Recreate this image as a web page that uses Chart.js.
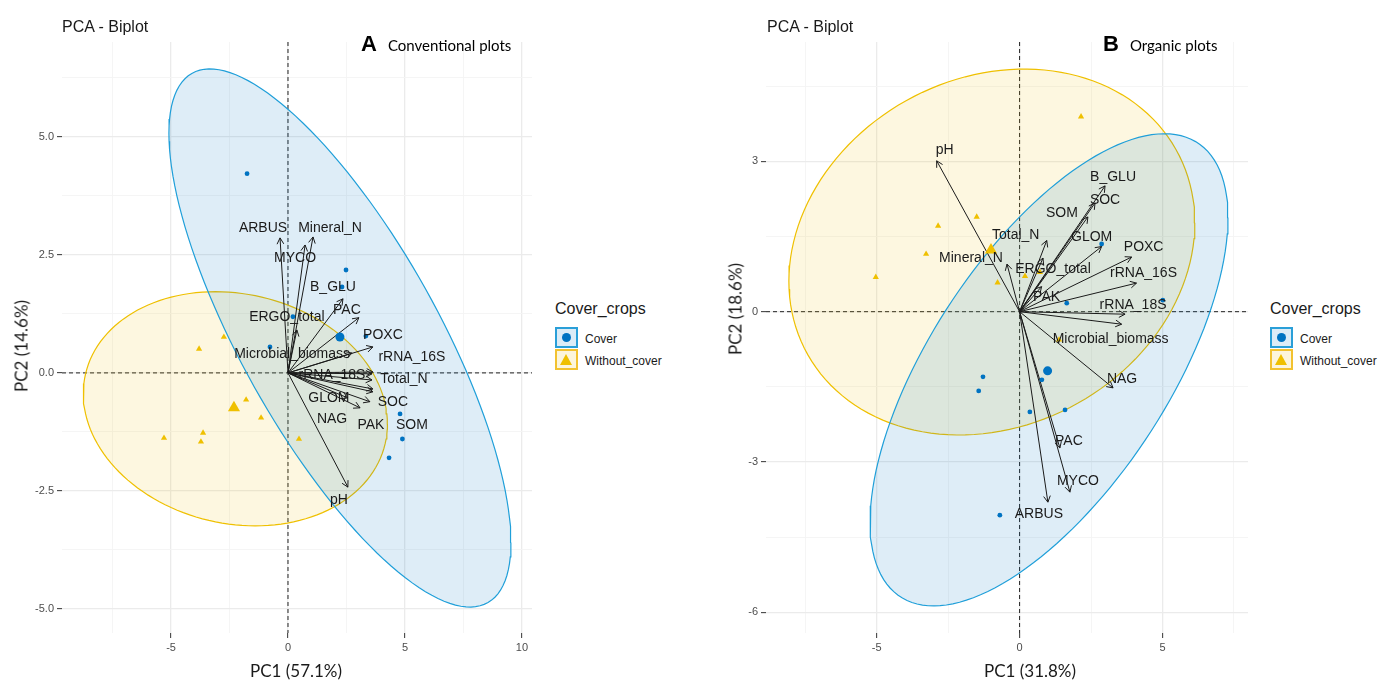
<!DOCTYPE html>
<html>
<head>
<meta charset="utf-8">
<script src="https://cdn.jsdelivr.net/npm/chart.js@4.4.0/dist/chart.umd.min.js"></script>
<style>
  body { margin: 0; background: #fff; width: 1392px; height: 681px; position: relative; overflow: hidden;
         font-family: "Liberation Sans", Arial, sans-serif; color: #1a1a1a; }
  canvas { position: absolute; top: 0; }
  #chartA { left: 0; }
  #chartB { left: 700px; }
  .txt { position: absolute; white-space: nowrap; }
  .title { font-size: 16px; line-height: 16px; }
  .tag { font-family: Lato, sans-serif; font-size: 15px; display: flex; align-items: baseline; color: #000; }
  .tag b { font-family: "Liberation Sans", Arial, sans-serif; font-size: 22px; margin-right: 11px; }
  .axt { font-family: Lato, sans-serif; font-size: 17px; line-height: 17px; transform: translate(-50%, -50%); }
  .axt.rot { transform: translate(-50%, -50%) rotate(-90deg); }
  .lg-title { font-size: 16px; line-height: 16px; }
  .key { position: absolute; width: 19px; height: 17px; border: 2px solid; }
  .key.cov { border-color: #2a9fd8; background: #dcecf7; }
  .key.wo { border-color: #f2c230; background: #fcf5dc; }
  .key.cov i { position: absolute; left: 5px; top: 4px; width: 9px; height: 9px; border-radius: 50%; background: #0073C2; }
  .key.wo i { position: absolute; left: 3px; top: 3px; width: 0; height: 0; border-left: 6.5px solid transparent;
              border-right: 6.5px solid transparent; border-bottom: 11px solid #EFC000; }
  .lg-lab { font-size: 12px; line-height: 12px; }
</style>
</head>
<body>
<canvas id="chartA" width="545" height="681"></canvas>
<canvas id="chartB" width="560" height="681"></canvas>

<div class="txt title" style="left:62px; top:19px;">PCA - Biplot</div>
<div class="txt tag" style="left:361px; top:31px;"><b>A</b>Conventional plots</div>
<div class="txt axt" style="left:296px; top:670px;">PC1 (57.1%)</div>
<div class="txt axt rot" style="left:21px; top:346px;">PC2 (14.6%)</div>

<div class="txt title" style="left:767px; top:19px;">PCA - Biplot</div>
<div class="txt tag" style="left:1103px; top:31px;"><b>B</b>Organic plots</div>
<div class="txt axt" style="left:1030px; top:670px;">PC1 (31.8%)</div>
<div class="txt axt rot" style="left:735px; top:309px;">PC2 (18.6%)</div>

<div class="txt lg-title" style="left:555px; top:301px;">Cover_crops</div>
<div class="key cov" style="left:555px; top:327px;"><i></i></div>
<div class="key wo" style="left:555px; top:349px;"><i></i></div>
<div class="txt lg-lab" style="left:585px; top:333px;">Cover</div>
<div class="txt lg-lab" style="left:585px; top:355px;">Without_cover</div>

<div class="txt lg-title" style="left:1270px; top:301px;">Cover_crops</div>
<div class="key cov" style="left:1270px; top:327px;"><i></i></div>
<div class="key wo" style="left:1270px; top:349px;"><i></i></div>
<div class="txt lg-lab" style="left:1300px; top:333px;">Cover</div>
<div class="txt lg-lab" style="left:1300px; top:355px;">Without_cover</div>

<script>
// ---------- Panel A: conventional plots ----------
const varsA = ["ARBUS", "Mineral_N", "MYCO", "B_GLU", "PAC", "POXC", "ERGO_total", "Microbial_biomass",
               "rRNA_16S", "rRNA_18S", "Total_N", "SOC", "GLOM", "NAG", "PAK", "SOM", "pH"];
const loadA1 = [-0.34, 1.07, 0.73, 2.35, 3.03, 3.63, 0.38, 2.74, 3.63, 3.59, 3.59, 3.63, 2.56, 3.08, 3.50, 3.63, 2.56];
const loadA2 = [2.86, 2.88, 2.71, 1.57, 1.17, 0.55, 0.91, 0.42, 0.02, -0.02, -0.15, -0.40, -0.53, -0.74, -0.61, -0.34, -2.42];

const coverA1 = [-1.75, 2.48, 2.31, 0.21, 3.33, -0.77, 4.79, 4.89, 4.32];
const coverA2 = [4.22, 2.18, 1.82, 1.19, 0.78, 0.55, -0.87, -1.40, -1.80];
const withoutA1 = [-2.74, -3.80, -1.79, -1.15, -3.63, -5.30, -3.72, 0.47];
const withoutA2 = [0.76, 0.51, -0.57, -0.95, -1.27, -1.38, -1.46, -1.40];
const meanCoverA = [2.22, 0.76];
const meanWithoutA = [-2.31, -0.74];
// ellipse: centre x, centre y, half-width, half-height, correlation
const ellCoverA = [2.22, 0.74, 7.31, 5.70, -0.76];
const ellWithoutA = [-2.25, -0.76, 6.50, 2.48, -0.13];

// ---------- Panel B: organic plots ----------
const varsB = ["pH", "B_GLU", "SOC", "SOM", "GLOM", "Total_N", "POXC", "Mineral_N", "ERGO_total", "rRNA_16S",
               "PAK", "rRNA_18S", "Microbial_biomass", "NAG", "PAC", "MYCO", "ARBUS"];
const loadB1 = [-2.90, 2.99, 2.64, 2.39, 2.87, 0.95, 3.92, -0.44, 0.82, 4.09, 0.77, 3.69, 3.57, 3.27, 1.41, 1.76, 0.99];
const loadB2 = [3.01, 2.51, 2.17, 1.89, 1.30, 1.42, 1.09, 0.95, 1.07, 0.57, 0.50, -0.05, -0.25, -1.52, -2.72, -3.60, -3.80];

const coverB1 = [-1.28, -1.43, 0.78, 0.36, 1.59, -0.69, 2.87, 1.65, 5.01];
const coverB2 = [-1.30, -1.58, -1.36, -2.00, -1.96, -4.06, 1.35, 0.17, 0.23];
const withoutB1 = [2.15, -1.50, -2.85, -3.27, -0.77, 0.19, 0.71, 1.38, -5.03];
const withoutB2 = [3.89, 1.89, 1.71, 1.15, 0.58, 0.71, 0.79, -0.56, 0.69];
const meanCoverB = [0.98, -1.18];
const meanWithoutB = [-1.00, 1.23];
const ellCoverB = [1.03, -1.16, 6.26, 4.71, 0.645];
const ellWithoutB = [-0.97, 1.19, 7.10, 3.65, 0.16];

// label nudges (px) so names sit like the repelled labels
const nudgeA = [[-17,-10],[17,-9],[-10,13],[-10,-12],[-12,-8],[10,-12],[-10,-13],[-60,1],[39,-15],[-40,1],
                [32,-1],[20,10],[-19,0],[-28,11],[1,23],[39,36],[-9,13]];
const nudgeB = [[8,-11],[8,-9],[10,-3],[-26,-4],[-10,-9],[-31,-5],[12,-10],[-36,-6],[10,11],[7,-10],
                [5,11],[8,-9],[-11,15],[9,-9],[9,-7],[8,-11],[-9,12]];

const BLUE = "#0073C2", GOLD = "#EFC000";

function ellipse(e) {
  const [cx, cy, ax, ay, r] = e;
  const pts = [];
  for (let i = 0; i <= 144; i++) {
    const t = i / 144 * 2 * Math.PI;
    pts.push({x: cx + ax * Math.cos(t), y: cy + ay * (r * Math.cos(t) + Math.sqrt(1 - r * r) * Math.sin(t))});
  }
  return pts;
}
const zip = (a, b) => a.map((v, i) => ({x: v, y: b[i]}));

// dashed lines through the origin
const zeroLines = {
  id: "zeroLines",
  beforeDatasetsDraw(chart) {
    const {ctx, chartArea: a, scales: {x, y}} = chart;
    const px = x.getPixelForValue(0), py = y.getPixelForValue(0);
    ctx.save();
    ctx.strokeStyle = "#222"; ctx.lineWidth = 1; ctx.setLineDash([4, 3]);
    ctx.beginPath();
    ctx.moveTo(px, a.top); ctx.lineTo(px, a.bottom);
    ctx.moveTo(a.left, py); ctx.lineTo(a.right, py);
    ctx.stroke();
    ctx.restore();
  }
};

// arrow heads and variable names
const biplot = {
  id: "biplot",
  afterDatasetsDraw(chart, args, opts) {
    const {ctx, scales: {x, y}} = chart;
    const ox = x.getPixelForValue(0), oy = y.getPixelForValue(0);
    ctx.save();
    ctx.strokeStyle = "#1a1a1a"; ctx.lineWidth = 1;
    opts.pc1.forEach((v, i) => {
      const tx = x.getPixelForValue(v), ty = y.getPixelForValue(opts.pc2[i]);
      const ang = Math.atan2(ty - oy, tx - ox);
      ctx.beginPath();
      [0.5, -0.5].forEach(d => {
        ctx.moveTo(tx, ty);
        ctx.lineTo(tx - 7 * Math.cos(ang + d), ty - 7 * Math.sin(ang + d));
      });
      ctx.stroke();
    });
    ctx.font = '14px "Liberation Sans", Arial, sans-serif';
    ctx.fillStyle = "#1a1a1a"; ctx.textAlign = "center"; ctx.textBaseline = "middle";
    opts.names.forEach((n, i) => {
      const tx = x.getPixelForValue(opts.pc1[i]), ty = y.getPixelForValue(opts.pc2[i]);
      ctx.fillText(n, tx + opts.nudge[i][0], ty + opts.nudge[i][1]);
    });
    ctx.restore();
  }
};

function makePanel(id, p) {
  const major = (v, m) => Math.abs(v / m - Math.round(v / m)) < 1e-6;
  const datasets = [
    {data: ellipse(p.ellWo), showLine: true, fill: "shape", tension: 0, pointRadius: 0,
     borderColor: GOLD, borderWidth: 1.2, backgroundColor: "rgba(239,192,0,0.12)", order: 10},
    {data: ellipse(p.ellCov), showLine: true, fill: "shape", tension: 0, pointRadius: 0,
     borderColor: "#1f9fd9", borderWidth: 1.2, backgroundColor: "rgba(0,115,194,0.13)", order: 9},
    {data: zip(p.cov1, p.cov2), pointStyle: "circle", pointRadius: 2.4, backgroundColor: BLUE, borderWidth: 0, order: 2},
    {data: [{x: p.meanCov[0], y: p.meanCov[1]}], pointStyle: "circle", pointRadius: 4.5, backgroundColor: BLUE, borderWidth: 0, order: 2},
    {data: zip(p.wo1, p.wo2), pointStyle: "triangle", pointRadius: 3.6, backgroundColor: GOLD, borderWidth: 0, order: 2},
    {data: [{x: p.meanWo[0], y: p.meanWo[1]}], pointStyle: "triangle", pointRadius: 7, backgroundColor: GOLD, borderWidth: 0, order: 2}
  ];
  p.pc1.forEach((v, i) => {
    datasets.push({data: [{x: 0, y: 0}, {x: v, y: p.pc2[i]}], showLine: true, pointRadius: 0,
                   borderColor: "#1a1a1a", borderWidth: 1, order: 5});
  });
  const gridFor = m => ({
    color: c => major(c.tick.value, m) ? "#ebebeb" : "#f4f4f4",
    lineWidth: c => major(c.tick.value, m) ? 1.3 : 0.9,
    tickColor: c => major(c.tick.value, m) ? "#333" : "rgba(0,0,0,0)",
    tickLength: 5, tickWidth: 1
  });
  const tickFont = {family: '"Liberation Sans", Arial, sans-serif', size: 11};
  new Chart(document.getElementById(id), {
    type: "scatter",
    data: {datasets},
    options: {
      responsive: false, animation: false, events: [],
      layout: {padding: {left: 0, top: 42, right: p.padRight, bottom: 0}},
      plugins: {legend: {display: false}, tooltip: {enabled: false},
                biplot: {names: p.names, pc1: p.pc1, pc2: p.pc2, nudge: p.nudge}},
      scales: {
        x: {type: "linear", min: p.xr[0], max: p.xr[1], border: {display: false},
            afterFit: s => { s.height = 48; },
            grid: gridFor(p.xStep * 2),
            ticks: {stepSize: p.xStep, includeBounds: false, autoSkip: false, maxRotation: 0, padding: 3,
                    color: "#4d4d4d", font: tickFont,
                    callback: v => major(v, p.xStep * 2) ? String(Math.round(v)) : ""}},
        y: {type: "linear", min: p.yr[0], max: p.yr[1], border: {display: false},
            afterFit: s => { s.width = p.yWidth; },
            grid: gridFor(p.yStep * 2),
            ticks: {stepSize: p.yStep, includeBounds: false, autoSkip: false, padding: 3,
                    color: "#4d4d4d", font: tickFont,
                    callback: v => major(v, p.yStep * 2) ? p.fmt(Math.round(v * 100) / 100) : ""}}
      }
    },
    plugins: [zeroLines, biplot]
  });
}

makePanel("chartA", {
  names: varsA, pc1: loadA1, pc2: loadA2, nudge: nudgeA,
  cov1: coverA1, cov2: coverA2, wo1: withoutA1, wo2: withoutA2,
  meanCov: meanCoverA, meanWo: meanWithoutA, ellCov: ellCoverA, ellWo: ellWithoutA,
  xr: [-9.66, 10.43], yr: [-5.51, 7.01], xStep: 2.5, yStep: 1.25,
  fmt: v => v.toFixed(1), yWidth: 62, padRight: 13
});

makePanel("chartB", {
  names: varsB, pc1: loadB1, pc2: loadB2, nudge: nudgeB,
  cov1: coverB1, cov2: coverB2, wo1: withoutB1, wo2: withoutB2,
  meanCov: meanCoverB, meanWo: meanWithoutB, ellCov: ellCoverB, ellWo: ellWithoutB,
  xr: [-8.87, 7.99], yr: [-6.41, 5.38], xStep: 2.5, yStep: 1.5,
  fmt: v => String(v), yWidth: 66, padRight: 12
});
</script>
</body>
</html>
